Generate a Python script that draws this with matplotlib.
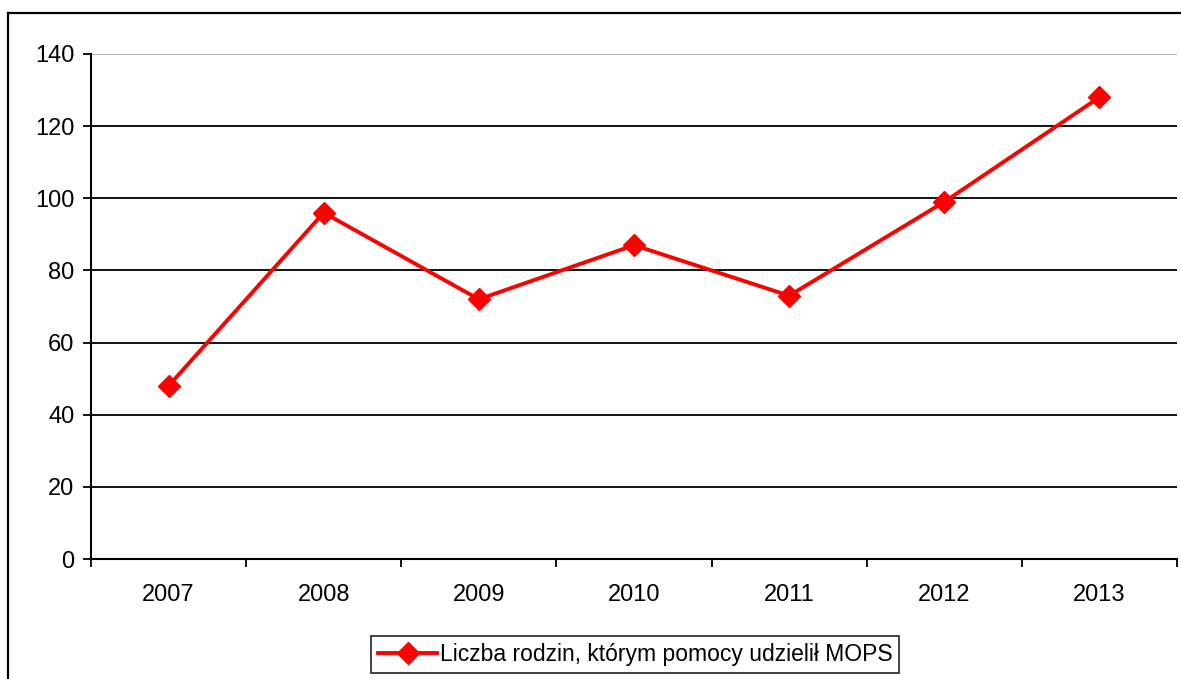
import matplotlib.pyplot as plt
from matplotlib.lines import Line2D

plt.rcParams['font.family'] = ['Liberation Sans', 'DejaVu Sans']

years = ['2007', '2008', '2009', '2010', '2011', '2012', '2013']
families = [48, 96, 72, 87, 73, 99, 128]
label = 'Liczba rodzin, którym pomocy udzielił MOPS'

W, H = 1181, 679
fig = plt.figure(figsize=(W / 100, H / 100), dpi=100)
ax = fig.add_axes([91 / W, 1 - 559 / H, (1177 - 91) / W, (559 - 54) / H])

# outer frame of the chart object (cut off at the right and bottom)
fig.add_artist(Line2D([8 / W, 8 / W], [0, 1 - 13 / H], transform=fig.transFigure,
                      color='black', lw=1.6))
fig.add_artist(Line2D([8 / W, 1], [1 - 13 / H, 1 - 13 / H], transform=fig.transFigure,
                      color='black', lw=1.6))

x = list(range(len(years)))
ax.plot(x, families, color='#ff0000', lw=2.8, marker='D', markersize=11.5,
        label=label, zorder=3)

ax.set_xlim(-0.5, len(years) - 0.5)
ax.set_ylim(0, 140)
ax.set_yticks(range(0, 141, 20))
for yv in range(20, 121, 20):
    ax.axhline(yv, color='black', lw=1.3, zorder=1)
ax.axhline(140, color='#b0b0b0', lw=1.3, zorder=1)

ax.set_xticks(x)
ax.set_xticklabels(years)
ax.set_xticks([i - 0.5 for i in range(len(years) + 1)], minor=True)
ax.tick_params(axis='x', which='major', length=0, labelsize=17, pad=18)
ax.tick_params(axis='x', which='minor', length=6, width=1.3, direction='out')
ax.tick_params(axis='y', length=6, width=1.3, labelsize=17, pad=6)

for side in ['top', 'right']:
    ax.spines[side].set_visible(False)
ax.spines['left'].set_linewidth(1.5)
ax.spines['bottom'].set_linewidth(1.5)

leg = fig.legend(loc='upper center', bbox_to_anchor=(635 / W, 1 - 636 / H),
                 fontsize=16.5, frameon=True, fancybox=False, edgecolor='black',
                 handlelength=2.6, borderpad=0.3, handletextpad=0.1, borderaxespad=0)
leg.get_frame().set_linewidth(1.3)

fig.savefig('out.png', dpi=100)
